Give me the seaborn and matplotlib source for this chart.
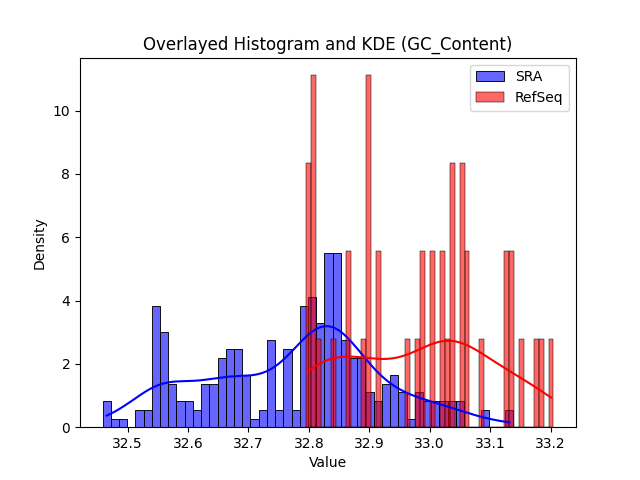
import numpy as np
import matplotlib
matplotlib.use("Agg")
import matplotlib.pyplot as plt
import seaborn as sns

# GC_Content: counts per bin (50 bins)
sra_range = (32.4585, 33.1385)
sra_counts = [3, 1, 1, 0, 2, 2, 14, 11, 5, 3,
              3, 2, 5, 5, 8, 9, 9, 6, 1, 2,
              10, 2, 9, 2, 14, 15, 12, 20, 20, 10,
              8, 8, 4, 3, 5, 6, 4, 1, 4, 3,
              3, 3, 3, 3, 0, 0, 2, 0, 0, 2]

refseq_range = (32.7959, 33.2048)
refseq_counts = [3, 4, 1, 0, 0, 1, 0, 0, 2, 0,
                 0, 1, 4, 0, 2, 0, 0, 0, 0, 0,
                 1, 0, 1, 2, 0, 2, 0, 2, 1, 3,
                 0, 3, 2, 0, 0, 1, 0, 0, 0, 0,
                 2, 2, 0, 1, 0, 0, 1, 1, 0, 1]

N_BINS = 50


def bin_values(rng, counts):
    # 各ビンの中心値を件数分だけ並べる
    edges = np.linspace(rng[0], rng[1], len(counts) + 1)
    centers = (edges[:-1] + edges[1:]) / 2
    return np.repeat(centers, counts)


sra = bin_values(sra_range, sra_counts)
refseq = bin_values(refseq_range, refseq_counts)

fig, ax = plt.subplots(figsize=(6.4, 4.8), dpi=100)

sns.histplot(x=sra, bins=N_BINS, binrange=sra_range, stat="density", kde=True,
             color="blue", alpha=0.6, label="SRA", ax=ax)
sns.histplot(x=refseq, bins=N_BINS, binrange=refseq_range, stat="density", kde=True,
             color="red", alpha=0.6, label="RefSeq", ax=ax)

ax.set_title("Overlayed Histogram and KDE (GC_Content)")
ax.set_xlabel("Value")
ax.set_ylabel("Density")
ax.legend()

plt.savefig("out.png", dpi=100)
plt.close()
